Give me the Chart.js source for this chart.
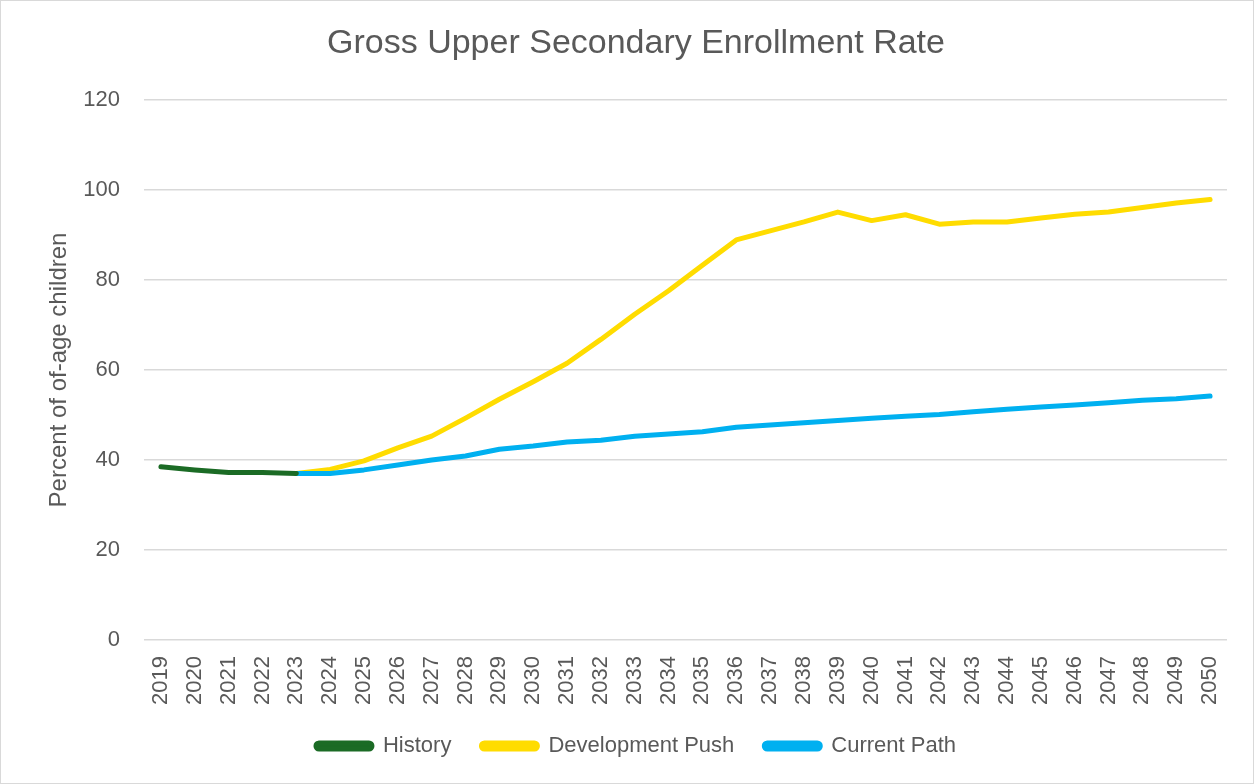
<!DOCTYPE html>
<html>
<head>
<meta charset="utf-8">
<script src="https://cdn.jsdelivr.net/npm/chart.js@4"></script>
<style>
    html, body { margin: 0; padding: 0; background: #ffffff; }
    #cadre { width: 1252px; height: 782px; border: 1px solid #d9d9d9; position: relative; }
</style>
</head>
<body>
<div id="cadre"><canvas id="graphique"></canvas></div>
<script>
const annees = ['2019', '2020', '2021', '2022', '2023', '2024', '2025', '2026', '2027', '2028',
    '2029', '2030', '2031', '2032', '2033', '2034', '2035', '2036', '2037', '2038',
    '2039', '2040', '2041', '2042', '2043', '2044', '2045', '2046', '2047', '2048',
    '2049', '2050'];

const historique = [38.5, 37.8, 37.2, 37.2, 37.0, null, null, null, null, null,
    null, null, null, null, null, null, null, null, null, null,
    null, null, null, null, null, null, null, null, null, null,
    null, null];

const developpement = [null, null, null, null, 37.0, 37.9, 39.8, 42.7, 45.3, 49.3,
    53.5, 57.4, 61.5, 66.8, 72.4, 77.6, 83.3, 88.9, 90.9, 92.9,
    95.1, 93.2, 94.5, 92.4, 92.9, 92.9, 93.8, 94.6, 95.1, 96.1,
    97.1, 97.9];

const tendance = [null, null, null, null, 37.0, 37.0, 37.8, 38.9, 40.0, 40.9,
    42.4, 43.1, 44.0, 44.4, 45.3, 45.8, 46.3, 47.3, 47.8, 48.3,
    48.8, 49.3, 49.7, 50.1, 50.7, 51.3, 51.8, 52.2, 52.7, 53.3,
    53.6, 54.2];

const gris = '#595959';
const police = "'Liberation Sans', Arial, sans-serif";

let graphique = new Chart(document.getElementById('graphique').getContext('2d'), {
    type: 'line',
    data: {
        labels: annees,
        datasets: [{
            label: 'History',
            data: historique,
            borderColor: '#1b6b25',
            backgroundColor: '#1b6b25',
            order: 0
        }, {
            label: 'Development Push',
            data: developpement,
            borderColor: '#ffdc00',
            backgroundColor: '#ffdc00',
            order: 2
        }, {
            label: 'Current Path',
            data: tendance,
            borderColor: '#00b0f0',
            backgroundColor: '#00b0f0',
            order: 1
        }]
    },
    options: {
        responsive: true,
        maintainAspectRatio: false,
        animation: false,
        elements: {
            line: { borderWidth: 5, borderCapStyle: 'round', borderJoinStyle: 'round', tension: 0 },
            point: { radius: 0 }
        },
        layout: { padding: { left: 44, right: 26, top: 10, bottom: 16 } },
        plugins: {
            title: {
                display: true,
                text: 'Gross Upper Secondary Enrollment Rate',
                color: gris,
                font: { family: police, size: 34, weight: 'normal' },
                padding: { top: 12, bottom: 36.2 }
            },
            legend: {
                position: 'bottom',
                labels: {
                    color: gris,
                    font: { family: police, size: 22 },
                    boxWidth: 56,
                    boxHeight: 6,
                    useBorderRadius: true,
                    borderRadius: 3,
                    padding: 30,
                    sort: (a, b) => a.datasetIndex - b.datasetIndex
                }
            },
            tooltip: { enabled: false }
        },
        scales: {
            x: {
                offset: true,
                afterFit: function (echelle) { echelle.height = 65; },
                grid: { display: false },
                border: { display: false },
                ticks: {
                    color: gris,
                    font: { family: police, size: 22 },
                    maxRotation: 90,
                    minRotation: 90,
                    autoSkip: false,
                    padding: 8
                }
            },
            y: {
                min: 0,
                max: 120,
                afterFit: function (echelle) { echelle.width = 99; },
                grid: { color: '#d9d9d9', lineWidth: 1.5, drawTicks: false },
                border: { display: false },
                ticks: {
                    stepSize: 20,
                    color: gris,
                    font: { family: police, size: 22 },
                    padding: 24
                },
                title: {
                    display: true,
                    text: 'Percent of of-age children',
                    color: gris,
                    font: { family: police, size: 24 },
                    padding: 0
                }
            }
        }
    }
});
</script>
</body>
</html>
